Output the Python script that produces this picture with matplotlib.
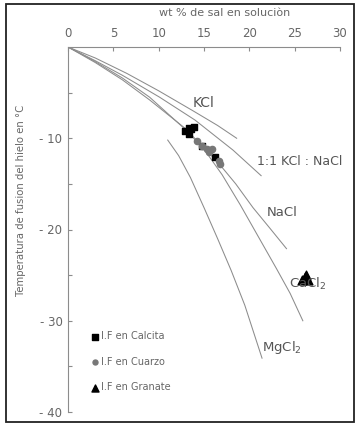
import numpy as np
import matplotlib
matplotlib.use("Agg")
from matplotlib import pyplot as plt
from matplotlib.patches import Rectangle

# curves (wt %, temperature in C)
kcl_x = [0, 3.0, 6.5, 10.0, 13.8, 16.5, 18.6]
kcl_y = [0, -1.2, -2.9, -4.8, -7.0, -8.6, -10.0]

mix_x = [0, 3.0, 6.0, 10.1, 14.0, 18.2, 21.3]
mix_y = [0, -1.5, -3.1, -5.5, -8.0, -11.3, -14.1]

nacl_x = [0, 3.0, 6.0, 9.0, 12.9, 16.5, 18.5, 20.4, 22.3, 24.1]
nacl_y = [0, -1.7, -3.6, -5.8, -8.9, -12.6, -15.0, -17.6, -19.9, -22.1]

cacl_x = [0, 3.0, 6.0, 9.0, 12.9, 15.0, 17.0, 19.0, 21.0, 23.0, 24.5, 25.9]
cacl_y = [0, -1.6, -3.4, -5.5, -9.0, -11.2, -14.0, -17.3, -20.8, -24.3, -27.0, -30.0]

mgcl_x = [11.0, 12.2, 13.5, 15.0, 16.5, 18.0, 19.5, 21.4]
mgcl_y = [-10.2, -11.9, -14.3, -17.6, -21.0, -24.5, -28.3, -34.1]

# fluid inclusion data
calcita_x = [12.9, 13.3, 13.6, 13.9, 13.3, 14.8, 16.2]
calcita_y = [-9.2, -9.5, -9.0, -8.8, -8.9, -10.8, -12.1]

cuarzo_x = [14.2, 14.8, 15.3, 15.6, 15.9, 16.6, 16.8]
cuarzo_y = [-10.3, -10.9, -11.2, -11.5, -11.2, -12.5, -12.8]

granate_x = [25.8, 26.1, 26.3, 26.5]
granate_y = [-25.5, -25.2, -25.0, -25.5]

xticks = [0, 5, 10, 15, 20, 25, 30]
yticks = [-10, -20, -30, -40]
yminor = [-5, -15, -25, -35]

line_c = '#8c8c8c'
txt_c = '#555555'

fig = plt.figure(figsize=(3.63, 4.29), dpi=100)
fig.patches.append(Rectangle((6 / 363, 1 - 422 / 429), 348 / 363, 418 / 429,
                             transform=fig.transFigure, fill=False,
                             edgecolor='#222222', linewidth=1.3))
ax = fig.add_axes([68 / 363, 1 - 412 / 429, 272 / 363, 365 / 429])

for cx, cy in [(kcl_x, kcl_y), (mix_x, mix_y), (nacl_x, nacl_y),
               (cacl_x, cacl_y), (mgcl_x, mgcl_y)]:
    ax.plot(cx, cy, color=line_c, lw=0.75)

ax.scatter(calcita_x, calcita_y, marker='s', s=22, color='black', zorder=3,
           label='I.F en Calcita')
ax.scatter(cuarzo_x, cuarzo_y, marker='o', s=20, color='#777777', zorder=3,
           label='I.F en Cuarzo')
ax.scatter(granate_x, granate_y, marker='^', s=40, color='black', zorder=3,
           label='I.F en Granate')

ax.text(13.7, -6.1, 'KCl', fontsize=10, color=txt_c, va='center')
ax.text(20.8, -12.6, '1:1 KCl : NaCl', fontsize=9, color=txt_c, va='center')
ax.text(21.9, -18.1, 'NaCl', fontsize=9.5, color=txt_c, va='center')
ax.text(24.4, -26.0, 'CaCl$_2$', fontsize=9.5, color=txt_c, va='center')
ax.text(21.4, -32.9, 'MgCl$_2$', fontsize=9.5, color=txt_c, va='center')

leg = ax.legend(loc='lower left', bbox_to_anchor=(0.05, 0.03), frameon=False,
                fontsize=7, handletextpad=0.1, labelspacing=1.6,
                handlelength=1.0, markerscale=0.8)
for t in leg.get_texts():
    t.set_color('#666666')

ax.set_xlim(0, 30)
ax.set_ylim(-40, 0)
ax.xaxis.tick_top()
ax.xaxis.set_label_position('top')
ax.set_xticks(xticks)
ax.set_yticks(yticks)
ax.set_yticklabels([f'- {abs(v)}' for v in yticks])
ax.set_yticks(yminor, minor=True)
ax.tick_params(direction='in', length=3, width=0.8, color=line_c,
               labelcolor='#666666', labelsize=8.5)
ax.tick_params(which='minor', direction='in', length=3, width=0.8, color=line_c)
ax.tick_params(axis='x', pad=5)
ax.tick_params(axis='y', pad=4)

for s in ['right', 'bottom']:
    ax.spines[s].set_visible(False)
for s in ['left', 'top']:
    ax.spines[s].set_color(line_c)
    ax.spines[s].set_linewidth(0.8)

ax.set_xlabel('wt % de sal en soluciòn', color='#666666', fontsize=8)
ax.xaxis.set_label_coords(0.577, 1.084)
ax.set_ylabel('Temperatura de fusion del hielo en °C', color='#666666',
              fontsize=7.3)
ax.yaxis.set_label_coords(-0.155, 0.58)

fig.savefig('out.png', dpi=100)
plt.close('all')
